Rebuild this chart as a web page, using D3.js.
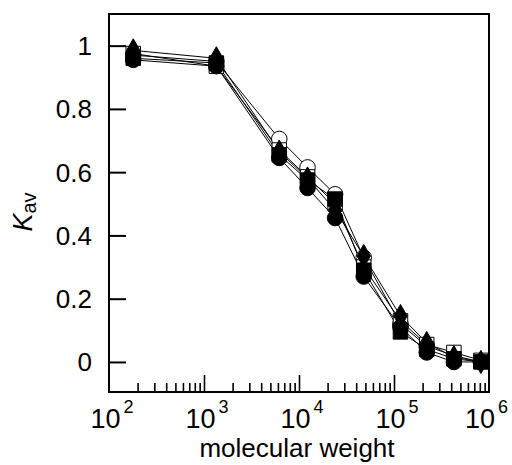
<!DOCTYPE html>
<html>
<head>
<meta charset="utf-8">
<script src="https://cdn.jsdelivr.net/npm/d3@7"></script>
<style>
  body { margin: 0; background: #fff; }
  text { font-family: "Liberation Sans", Arial, sans-serif; fill: #000; }
</style>
</head>
<body>
<div id="chart"></div>
<script>
// molecular weights of the standards
const molWeights = [180, 1350, 6200, 12300, 24000, 48000, 117000, 221000, 427000, 822000]

// Kav for each run
const openCircle   = [0.970, 0.950, 0.705, 0.615, 0.530, 0.330, 0.120, 0.050, 0.020, 0.000]
const filledCircle = [0.955, 0.935, 0.645, 0.550, 0.455, 0.270, 0.110, 0.030, 0.000, 0.000]
const openSquare   = [0.975, 0.935, 0.670, 0.585, 0.500, 0.300, 0.130, 0.055, 0.030, 0.005]
const filledSquare = [0.960, 0.945, 0.655, 0.575, 0.515, 0.290, 0.095, 0.040, 0.010, 0.000]
const diamond      = [0.985, 0.960, 0.665, 0.580, 0.480, 0.335, 0.145, 0.060, 0.015, 0.000]

const yTicks = [0, 0.2, 0.4, 0.6, 0.8, 1]
const xDecades = [2, 3, 4, 5, 6]

const series = [
  { name: 'open circle', values: openCircle, symbol: d3.symbolCircle, filled: false },
  { name: 'open square', values: openSquare, symbol: d3.symbolSquare, filled: false },
  { name: 'filled circle', values: filledCircle, symbol: d3.symbolCircle, filled: true },
  { name: 'filled square', values: filledSquare, symbol: d3.symbolSquare, filled: true },
  { name: 'diamond', values: diamond, symbol: d3.symbolDiamond, filled: true }
]

const width = 512, height = 465
const frame = { left: 109, right: 489, top: 14, bottom: 392 }

const svg = d3.select('#chart').append('svg')
  .attr('width', width)
  .attr('height', height)

const x = d3.scaleLog()
  .domain([100, 1e6])
  .range([frame.left, frame.right])
const y = d3.scaleLinear()
  .domain([-0.095, 1.1])
  .range([frame.bottom, frame.top])

// y ticks (inward, left side)
svg.append('g')
  .attr('transform', `translate(${frame.left},0)`)
  .call(d3.axisRight(y).tickValues(yTicks).tickSize(17).tickFormat(''))
  .call(g => g.select('.domain').remove())
  .call(g => g.selectAll('line').attr('stroke', '#000').attr('stroke-width', 2))

svg.append('g').selectAll('text')
  .data(yTicks)
  .join('text')
  .attr('x', 92)
  .attr('y', d => y(d))
  .attr('dy', '0.36em')
  .attr('text-anchor', 'end')
  .attr('font-size', 26)
  .text(d => d3.format('~g')(d))

// x ticks (inward, bottom side)
const minor = []
for (let e = 2; e < 6; e++) {
  for (let m = 2; m <= 9; m++) minor.push(m * Math.pow(10, e))
}
const major = [1e3, 1e4, 1e5]
svg.append('g')
  .attr('transform', `translate(0,${frame.bottom})`)
  .call(d3.axisTop(x).tickValues(minor).tickSize(9).tickFormat(''))
  .call(g => g.select('.domain').remove())
  .call(g => g.selectAll('line').attr('stroke', '#000').attr('stroke-width', 1.6))
svg.append('g')
  .attr('transform', `translate(0,${frame.bottom})`)
  .call(d3.axisTop(x).tickValues(major).tickSize(17).tickFormat(''))
  .call(g => g.select('.domain').remove())
  .call(g => g.selectAll('line').attr('stroke', '#000').attr('stroke-width', 1.6))

const xl = svg.append('g').selectAll('text')
  .data(xDecades)
  .join('text')
  .attr('x', d => d === 6 ? 508 : x(Math.pow(10, d)) + 3)
  .attr('y', 428)
  .attr('text-anchor', d => d === 6 ? 'end' : 'middle')
  .attr('font-size', 27)
xl.append('tspan').text('10')
xl.append('tspan')
  .attr('dx', 3)
  .attr('dy', -15)
  .attr('font-size', 18)
  .text(d => d)

// axis titles
svg.append('text')
  .attr('x', 297)
  .attr('y', 457)
  .attr('text-anchor', 'middle')
  .attr('font-size', 26)
  .text('molecular weight')

const yl = svg.append('text')
  .attr('transform', 'translate(32,212) rotate(-90)')
  .attr('text-anchor', 'middle')
  .attr('font-size', 27)
yl.append('tspan').attr('font-style', 'italic').text('K')
yl.append('tspan').attr('dy', 4).attr('font-size', 20).text('av')

// lines
const line = d3.line()
  .x((d, i) => x(molWeights[i]))
  .y(d => y(d))

const lines = svg.append('g')
lines.selectAll('path.halo')
  .data(series)
  .join('path')
  .attr('class', 'halo')
  .attr('d', d => line(d.values))
  .attr('fill', 'none')
  .attr('stroke', '#fff')
  .attr('stroke-width', 3.5)
lines.selectAll('path.ln')
  .data(series)
  .join('path')
  .attr('class', 'ln')
  .attr('d', d => line(d.values))
  .attr('fill', 'none')
  .attr('stroke', '#000')
  .attr('stroke-width', 1)

// markers
const symbolSize = s => s === d3.symbolCircle ? 190 : s === d3.symbolSquare ? 210 : 155
series.forEach(s => {
  svg.append('g').selectAll('path')
    .data(s.values)
    .join('path')
    .attr('transform', (d, i) => `translate(${x(molWeights[i])},${y(d)})`)
    .attr('d', d3.symbol().type(s.symbol).size(symbolSize(s.symbol)))
    .attr('fill', s.filled ? '#000' : '#fff')
    .attr('stroke', '#000')
    .attr('stroke-width', 1)
})

// frame
svg.append('rect')
  .attr('x', frame.left)
  .attr('y', frame.top)
  .attr('width', frame.right - frame.left)
  .attr('height', frame.bottom - frame.top)
  .attr('fill', 'none')
  .attr('stroke', '#000')
  .attr('stroke-width', 2)
</script>
</body>
</html>
